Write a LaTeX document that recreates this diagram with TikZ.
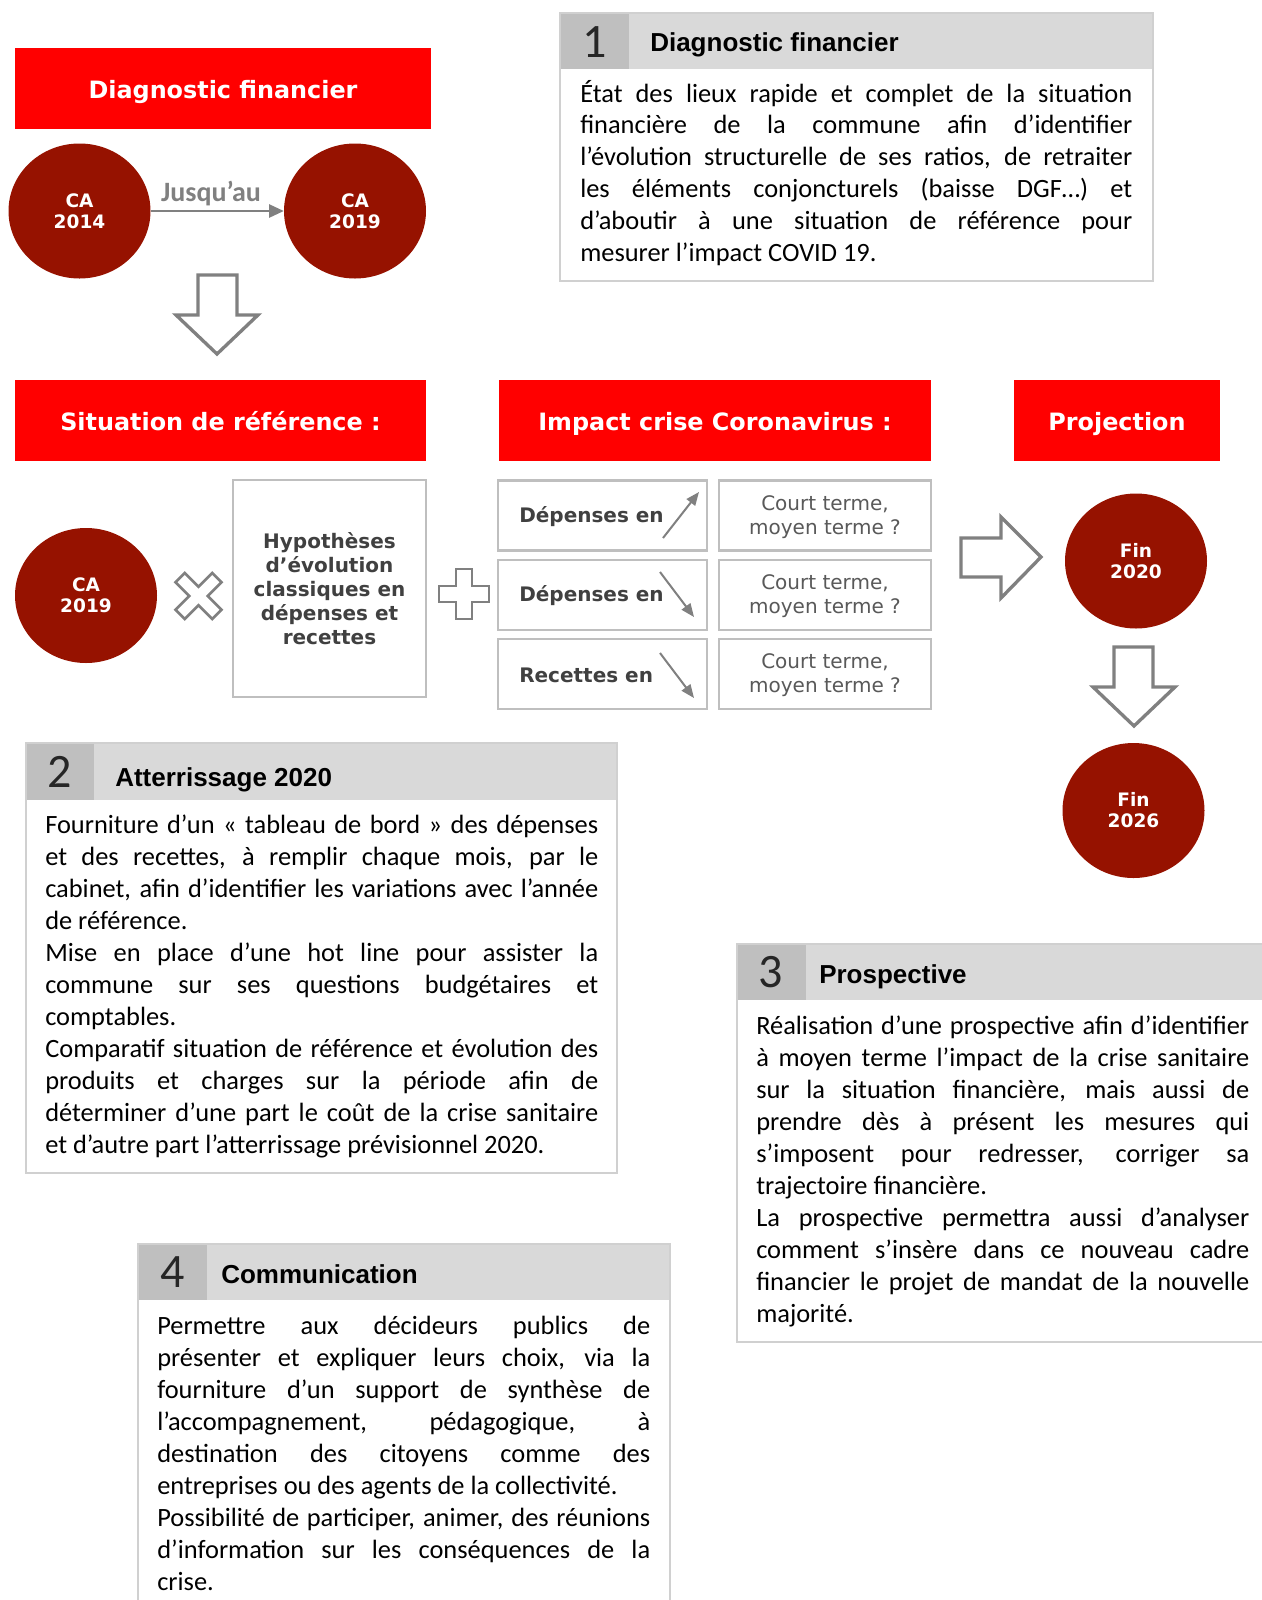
\documentclass[tikz,border=0pt]{standalone}
\usepackage{fontspec}
\setmainfont{Carlito}
\newfontfamily\verd{DejaVu Sans}
\newfontfamily\arialf{Liberation Sans}
\usetikzlibrary{shapes.geometric,arrows.meta}
\definecolor{bannerred}{HTML}{FF0000}
\definecolor{circred}{HTML}{961200}
\definecolor{arrowgray}{HTML}{808080}
\definecolor{boxgray}{HTML}{BFBFBF}
\definecolor{hdrgray}{HTML}{D9D9D9}
\definecolor{numgray}{HTML}{BFBFBF}
\definecolor{panelborder}{HTML}{D0D0D0}
\definecolor{txtdark}{HTML}{404040}
\definecolor{txtmid}{HTML}{595959}
\newcommand\panelbody[6]{% x, first baseline, step, width(px), name, lines
  \foreach \mytext [count=\i] in {#6} {
    \node[bodytext, anchor=base west] (#5-\i) at (#1, {#2+(\i-1)*#3}) {\makebox[\dimexpr 0.75pt*#4\relax][s]{\mytext}};
  }}
\begin{document}
\begin{tikzpicture}[x=0.75pt,y=-0.75pt,
  banner/.style={fill=bannerred, text=white, font=\verd\bfseries\fontsize{17.9pt}{20pt}\selectfont, inner sep=0, minimum height=60.75pt, text height=16.5pt, text depth=1.6pt},
  circ/.style={ellipse, fill=circred, text=white, minimum width=106.5pt, minimum height=101.25pt, inner sep=0, align=center, font=\verd\bfseries\fontsize{13.9pt}{15.75pt}\selectfont},
  blockarrow/.style={draw=arrowgray, fill=white, line width=2.5pt, line join=miter},
  symbolshape/.style={draw=arrowgray, fill=white, line width=2pt, line join=miter},
  graybox/.style={draw=boxgray, line width=2pt, fill=white, inner sep=0},
  deplabel/.style={text=txtdark, font=\verd\bfseries\fontsize{15pt}{18pt}\selectfont, inner sep=0, anchor=west},
  termlabel/.style={text=txtmid, font=\verd\fontsize{15pt}{18pt}\selectfont, inner sep=0, align=center},
  smallarrow/.style={draw=arrowgray, line width=1.5pt, -{Triangle[length=10pt,width=8pt]}},
  bodytext/.style={font=\fontsize{19.8pt}{24pt}\selectfont, inner sep=0, text=black},
  numtext/.style={font=\fontsize{36pt}{40pt}\selectfont, text=black!85, inner sep=0},
  titletext/.style={font=\arialf\bfseries\fontsize{19.5pt}{22pt}\selectfont, text=black, inner sep=0, anchor=base west},
  hdrfill/.style={fill=hdrgray},
  numfill/.style={fill=numgray},
  panelframe/.style={draw=panelborder, line width=1.5pt}
]
\useasboundingbox (0,0) rectangle (1262,1600);

% ---------- Top left: Diagnostic financier ----------
\node[banner, minimum width=312pt] (b1) at (223,88.5) {Diagnostic financier};
\node[circ] (ca1) at (79.5,211) {CA\\2014};
\node[circ] (ca2) at (355,211) {CA\\2019};
\draw[arrowgray, line width=1.2pt, -{Triangle[length=11pt,width=10pt]}] (ca1) -- (ca2);
\node[font=\bfseries\fontsize{21pt}{24pt}\selectfont, text=arrowgray, inner sep=0] (jus) at (211,194) {Jusqu’au};
\draw[blockarrow] (198,275) -- (237,275) -- (237,315) -- (258,315) -- (217,354) -- (176,315) -- (198,315) -- cycle;

% ---------- Panel 1 ----------
\fill[hdrfill] (560,13) rectangle (1153,69);
\fill[numfill] (560,13) rectangle (629,69);
\draw[panelframe] (560,13) rectangle (1153,281);
\node[numtext] (n1) at (594.5,42) {1};
\node[titletext] (t1) at (650,51) {Diagnostic financier};
\panelbody{580}{102}{31.8}{552}{pa}{%
  {État des lieux rapide et complet de la situation},
  {financière de la commune afin d’identifier},
  {l’évolution structurelle de ses ratios, de retraiter},
  {les éléments conjoncturels (baisse DGF…) et},
  {d’aboutir à une situation de référence pour},
  {mesurer l’impact COVID 19.\hfill}}

% ---------- Middle row banners ----------
\node[banner, minimum width=308.25pt] (b2) at (220.5,420.5) {Situation de référence :};
\node[banner, minimum width=324pt] (b3) at (715,420.5) {Impact crise Coronavirus :};
\node[banner, minimum width=154.5pt] (b4) at (1117,420.5) {Projection};

% ---------- Situation de référence ----------
\node[circ] (ca3) at (86,595.5) {CA\\2019};
\begin{scope}[shift={(198.5,596)}, rotate=45]
  \draw[symbolshape] (-6.5,-26) -- (6.5,-26) -- (6.5,-6.5) -- (26,-6.5) -- (26,6.5) -- (6.5,6.5) -- (6.5,26) -- (-6.5,26) -- (-6.5,6.5) -- (-26,6.5) -- (-26,-6.5) -- (-6.5,-6.5) -- cycle;
\end{scope}
\node[graybox, minimum width=144.75pt, minimum height=162.75pt] (hyp) at (329.5,588.5) {};
\node[text=txtdark, font=\verd\bfseries\fontsize{15pt}{18pt}\selectfont, align=center, inner sep=0] (hyptext) at (329.5,589) {Hypothèses\\d’évolution\\classiques en\\dépenses et\\recettes};
\begin{scope}[shift={(464,594)}]
  \draw[symbolshape] (-8,-25) -- (8,-25) -- (8,-8) -- (25,-8) -- (25,8) -- (8,8) -- (8,25) -- (-8,25) -- (-8,8) -- (-25,8) -- (-25,-8) -- (-8,-8) -- cycle;
\end{scope}

% ---------- Impact crise ----------
\node[graybox, minimum width=156.75pt, minimum height=52.5pt] (l1) at (602.5,515.5) {};
\node[graybox, minimum width=156.75pt, minimum height=52.5pt] (l2) at (602.5,595) {};
\node[graybox, minimum width=156.75pt, minimum height=52.5pt] (l3) at (602.5,674) {};
\node[graybox, minimum width=159pt, minimum height=52.5pt] (r1) at (825,515.5) {};
\node[graybox, minimum width=159pt, minimum height=52.5pt] (r2) at (825,595) {};
\node[graybox, minimum width=159pt, minimum height=52.5pt] (r3) at (825,674) {};
\node[deplabel] (l1t) at (519,517) {Dépenses en};
\node[deplabel] (l2t) at (519,596) {Dépenses en};
\node[deplabel] (l3t) at (519,675) {Recettes en};
\draw[smallarrow] (663,538) -- (699,492);
\draw[smallarrow] (660,572) -- (694,617);
\draw[smallarrow] (660,653) -- (694,698);
\node[termlabel] (r1t) at (825,517) {Court terme,\\moyen terme ?};
\node[termlabel] (r2t) at (825,596.5) {Court terme,\\moyen terme ?};
\node[termlabel] (r3t) at (825,675.5) {Court terme,\\moyen terme ?};

% ---------- Projection ----------
\draw[blockarrow] (961,538) -- (1001,538) -- (1001,517) -- (1041,557) -- (1001,598) -- (1001,577) -- (961,577) -- cycle;
\node[circ] (fin1) at (1136,561) {Fin\\2020};
\draw[blockarrow] (1114,647) -- (1153,647) -- (1153,687) -- (1175,687) -- (1134,726) -- (1093,687) -- (1114,687) -- cycle;
\node[circ] (fin2) at (1133.5,810.5) {Fin\\2026};

% ---------- Panel 2 ----------
\fill[hdrfill] (25.5,743) rectangle (617,800);
\fill[numfill] (25.5,743) rectangle (94,800);
\draw[panelframe] (25.5,743) rectangle (617,1173);
\node[numtext] (n2) at (60,771.5) {2};
\node[titletext] (t2) at (115,786) {Atterrissage 2020};
\panelbody{45}{833}{32.05}{553}{pb}{%
  {Fourniture d’un « tableau de bord » des dépenses},
  {et des recettes, à remplir chaque mois, par le},
  {cabinet, afin d’identifier les variations avec l’année},
  {de référence.\hfill},
  {Mise en place d’une hot line pour assister la},
  {commune sur ses questions budgétaires et},
  {comptables.\hfill},
  {Comparatif situation de référence et évolution des},
  {produits et charges sur la période afin de},
  {déterminer d’une part le coût de la crise sanitaire},
  {et d’autre part l’atterrissage prévisionnel 2020.\hfill}}

% ---------- Panel 3 ----------
\fill[hdrfill] (736.5,944) rectangle (1275,1000);
\fill[numfill] (736.5,944) rectangle (806,1000);
\draw[panelframe] (736.5,944) rectangle (1275,1342);
\node[numtext] (n3) at (771,972) {3};
\node[titletext] (t3) at (819,983) {Prospective};
\panelbody{756}{1034}{32.1}{493}{pc}{%
  {Réalisation d’une prospective afin d’identifier},
  {à moyen terme l’impact de la crise sanitaire},
  {sur la situation financière, mais aussi de},
  {prendre dès à présent les mesures qui},
  {s’imposent pour redresser, corriger sa},
  {trajectoire financière.\hfill},
  {La prospective permettra aussi d’analyser},
  {comment s’insère dans ce nouveau cadre},
  {financier le projet de mandat de la nouvelle},
  {majorité.\hfill}}

% ---------- Panel 4 ----------
\fill[hdrfill] (138,1244) rectangle (670,1300);
\fill[numfill] (138,1244) rectangle (207,1300);
\draw[panelframe] (138,1244) rectangle (670,1615);
\node[numtext] (n4) at (172.5,1272) {4};
\node[titletext] (t4) at (221,1283) {Communication};
\panelbody{157}{1334}{32}{493}{pd}{%
  {Permettre aux décideurs publics de},
  {présenter et expliquer leurs choix, via la},
  {fourniture d’un support de synthèse de},
  {l’accompagnement, pédagogique, à},
  {destination des citoyens comme des},
  {entreprises ou des agents de la collectivité.\hfill},
  {Possibilité de participer, animer, des réunions},
  {d’information sur les conséquences de la},
  {crise.\hfill}}
\end{tikzpicture}
\end{document}
